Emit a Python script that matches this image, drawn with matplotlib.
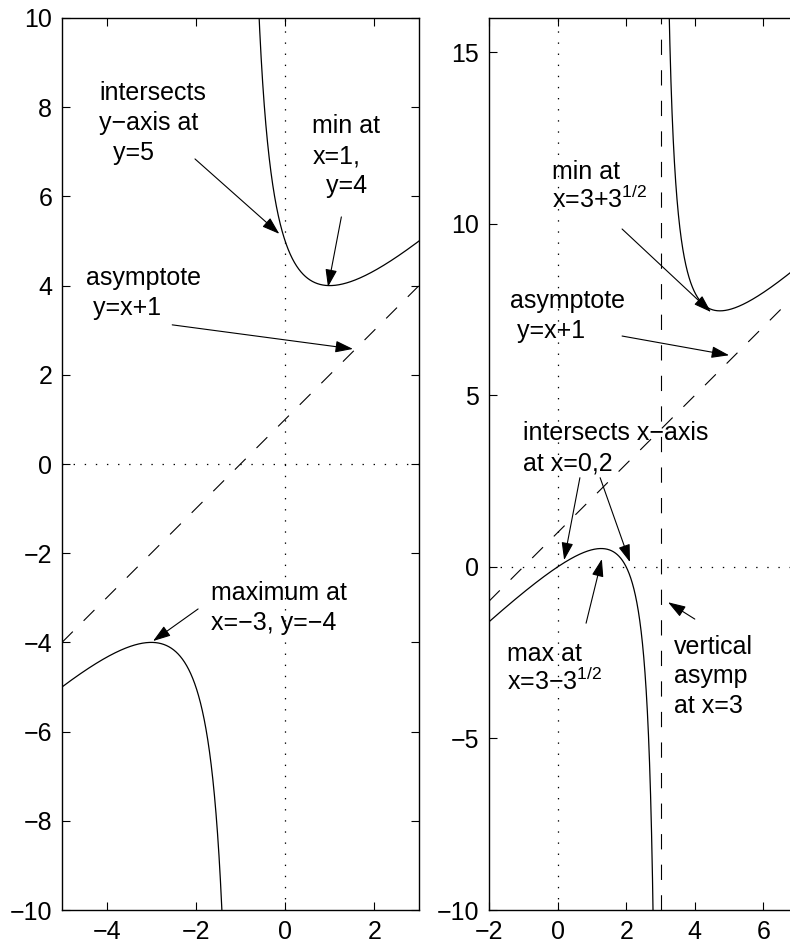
import numpy as np
import matplotlib
matplotlib.use("Agg")
import matplotlib.pyplot as plt

plt.rcParams['font.family'] = ['Liberation Sans', 'DejaVu Sans']
plt.rcParams['mathtext.fontset'] = 'custom'
plt.rcParams['mathtext.rm'] = 'Liberation Sans'
plt.rcParams['mathtext.it'] = 'Liberation Sans'
plt.rcParams['lines.scale_dashes'] = False
FS = 18

# curve definitions read from the annotations: y = x + 1 + r/(x - p)
left_slope, left_icpt, left_pole, left_resid = 1.0, 1.0, -1.0, 4.0
right_slope, right_icpt, right_pole, right_resid = 1.0, 1.0, 3.0, 3.0

left_xlim, left_ylim = (-5, 3), (-10, 10)
right_xlim, right_ylim = (-2, 8), (-10, 16)
left_xticks = [-4, -2, 0, 2]
left_yticks = [-10, -8, -6, -4, -2, 0, 2, 4, 6, 8, 10]
right_xticks = [-2, 0, 2, 4, 6]
right_yticks = [-10, -5, 0, 5, 10, 15]

# (text, text x, baseline y of last line, [(tail x, tail y, head x, head y), ...])
left_notes = [
    ("intersects\ny\u2212axis at\n  y=5", -4.17, 6.82, [(-2.02, 6.84, -0.13, 5.16)]),
    ("min at\nx=1,\n  y=4", 0.61, 6.08, [(1.26, 5.54, 0.96, 3.97)]),
    ("asymptote\n y=x+1", -4.46, 3.34, [(-2.53, 3.12, 1.52, 2.58)]),
    ("maximum at\nx=\u22123, y=\u22124", -1.66, -3.72, [(-1.95, -3.25, -2.96, -3.97)]),
]
right_notes = [
    ("min at\nx=3+3$^{1/2}$", -0.16, 10.46, [(1.88, 9.85, 4.47, 7.43)]),
    ("asymptote\n y=x+1", -1.39, 6.67, [(1.88, 6.73, 5.0, 6.17)]),
    ("intersects x\u2212axis\nat x=0,2", -1.01, 2.82,
     [(0.65, 2.6, 0.19, 0.2), (1.24, 2.6, 2.11, 0.14)]),
    ("max at\nx=3\u22123$^{1/2}$", -1.48, -3.59, [(0.83, -1.64, 1.29, 0.23)]),
    ("vertical\nasymp\nat x=3", 3.39, -4.26, [(4.0, -1.52, 3.22, -1.03)]),
]


def branches(slope, icpt, pole, resid, xlim):
    out = []
    for a, b in [(xlim[0], pole - 1e-3), (pole + 1e-3, xlim[1])]:
        x = np.linspace(a, b, 4000)
        out.append((x, slope * x + icpt + resid / (x - pole)))
    return out


def setup(ax, xlim, ylim, xt, yt):
    ax.set_xlim(xlim)
    ax.set_ylim(ylim)
    ax.set_xticks(xt)
    ax.set_yticks(yt)
    ax.tick_params(direction='in', length=6, width=0.8, top=True, right=True,
                   labelsize=FS, pad=7)
    for s in ax.spines.values():
        s.set_linewidth(1.0)
    ax.axhline(0, color='k', lw=0.9, ls=(0, (1, 7)))
    ax.axvline(0, color='k', lw=0.9, ls=(0, (1, 7)))


def draw(ax, slope, icpt, pole, resid, xlim, notes, vert=False):
    for x, y in branches(slope, icpt, pole, resid, xlim):
        ax.plot(x, y, color='k', lw=0.9)
    xs = np.array(xlim, dtype=float)
    ax.plot(xs, slope * xs + icpt, color='k', lw=0.8, dashes=(11, 11))
    if vert:
        ax.axvline(pole, color='k', lw=0.8, dashes=(11, 11))
    for txt, tx, ty, arrows in notes:
        # lines with a superscript get taller boxes, so pull them closer
        ls = 1.1 if '$' in txt else 1.3
        ax.text(tx, ty, txt, fontsize=FS, ha='left', va='baseline', linespacing=ls)
        for x0, y0, x1, y1 in arrows:
            ax.annotate('', xy=(x1, y1), xytext=(x0, y0),
                        arrowprops=dict(arrowstyle='-|>,head_length=0.6,head_width=0.2',
                                        mutation_scale=18, color='k', lw=0.8,
                                        shrinkA=0, shrinkB=0))


fig = plt.figure(figsize=(7.9, 9.46), dpi=100)
ax1 = fig.add_axes([62 / 790, 36 / 946, 357 / 790, 892 / 946])
ax2 = fig.add_axes([489 / 790, 36 / 946, 343 / 790, 892 / 946])

setup(ax1, left_xlim, left_ylim, left_xticks, left_yticks)
draw(ax1, left_slope, left_icpt, left_pole, left_resid, left_xlim, left_notes)
setup(ax2, right_xlim, right_ylim, right_xticks, right_yticks)
draw(ax2, right_slope, right_icpt, right_pole, right_resid, right_xlim, right_notes, vert=True)

fig.savefig('out.png', dpi=100)
